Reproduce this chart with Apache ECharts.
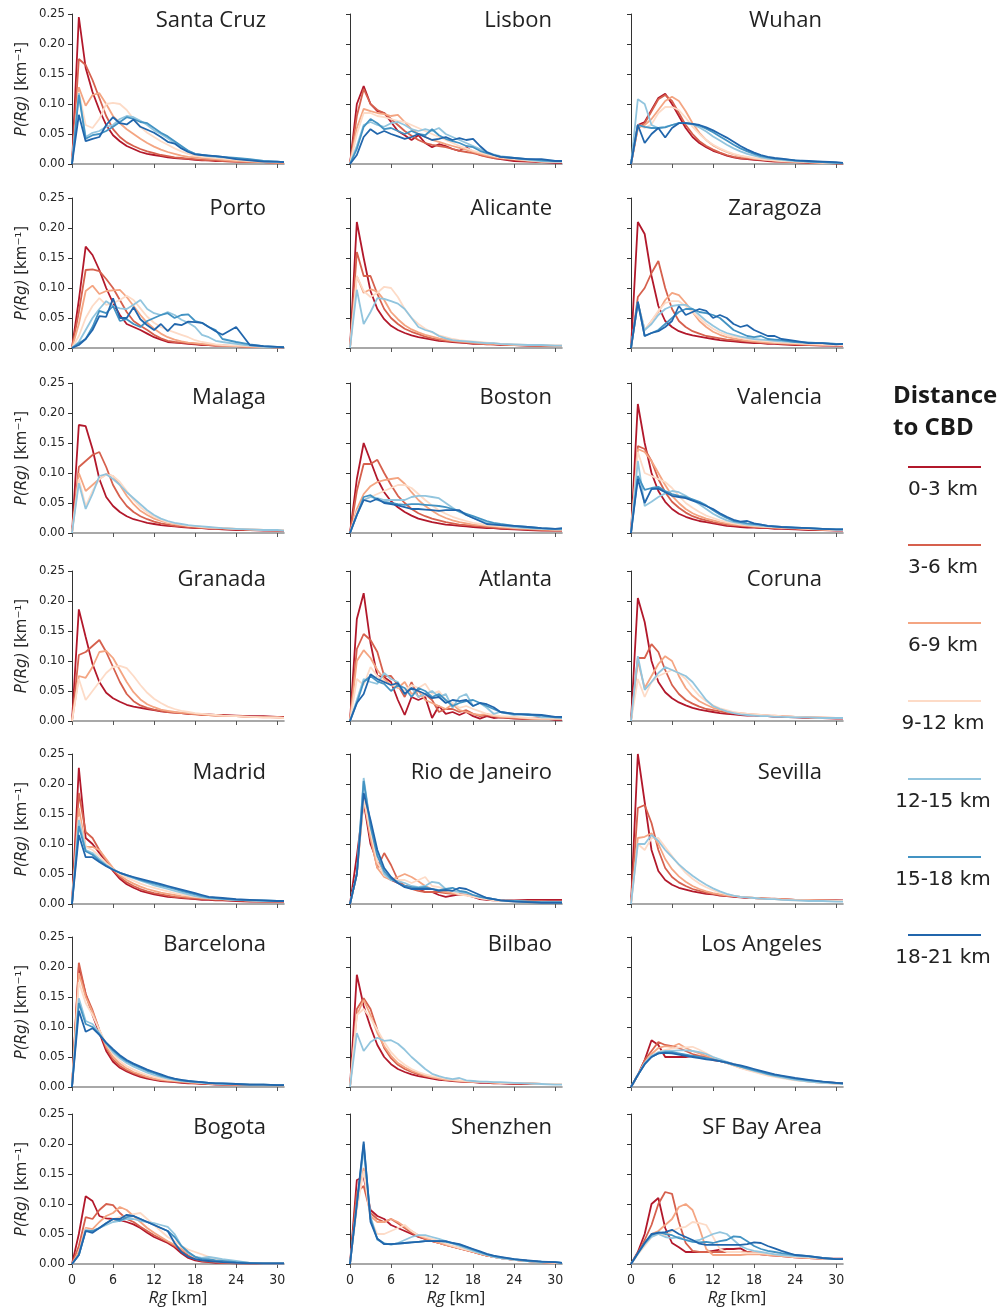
<!DOCTYPE html>
<html><head><meta charset="utf-8">
<script src="https://cdn.jsdelivr.net/npm/echarts@6/dist/echarts.min.js"></script>
<style>html,body{margin:0;padding:0;background:#fff}#c{width:1001px;height:1313px}</style>
</head><body><div id="c"></div>
<script>
// Rg bins (km)
const rgKm = [0,1,2,3,4,5,6,7,8,9,10,11,12,13,14,15,16,17,18,19,20,21,22,24,26,28,30,31];
const bands = ['0-3 km','3-6 km','6-9 km','9-12 km','12-15 km','15-18 km','18-21 km'];
const bandColors = ['#b2182b','#d6604d','#f4a582','#fddbc7','#92c5de','#4393c3','#2166ac'];
const xTicks = [0,6,12,18,24,30];
const yTicks = [0,0.05,0.10,0.15,0.20,0.25];
const cities = ['Santa Cruz','Lisbon','Wuhan','Porto','Alicante','Zaragoza','Malaga','Boston','Valencia','Granada','Atlanta','Coruna','Madrid','Rio de Janeiro','Sevilla','Barcelona','Bilbao','Los Angeles','Bogota','Shenzhen','SF Bay Area'];

const santaCruz = [
 [0,0.245,0.16,0.12,0.09,0.065,0.048,0.038,0.03,0.025,0.02,0.017,0.015,0.013,0.011,0.01,0.009,0.008,0.007,0.006,0.006,0.005,0.005,0.004,0.003,0.003,0.002,0.002],
 [0,0.175,0.165,0.14,0.11,0.08,0.058,0.045,0.036,0.03,0.025,0.021,0.018,0.015,0.013,0.011,0.01,0.009,0.008,0.007,0.006,0.006,0.005,0.004,0.003,0.003,0.002,0.002],
 [0,0.128,0.097,0.115,0.118,0.1,0.08,0.068,0.058,0.05,0.042,0.035,0.029,0.024,0.02,0.017,0.014,0.012,0.011,0.01,0.009,0.008,0.007,0.005,0.004,0.003,0.002,0.002],
 [0,0.12,0.065,0.06,0.075,0.1,0.102,0.1,0.09,0.075,0.062,0.052,0.045,0.038,0.032,0.026,0.021,0.017,0.014,0.012,0.011,0.01,0.009,0.007,0.005,0.004,0.003,0.003],
 [0,0.118,0.045,0.052,0.055,0.062,0.065,0.075,0.08,0.078,0.072,0.065,0.056,0.05,0.043,0.035,0.028,0.022,0.017,0.015,0.013,0.012,0.011,0.009,0.007,0.005,0.003,0.003],
 [0,0.115,0.042,0.048,0.05,0.055,0.062,0.07,0.078,0.075,0.07,0.068,0.06,0.052,0.046,0.038,0.03,0.022,0.017,0.015,0.014,0.013,0.012,0.01,0.008,0.005,0.004,0.003],
 [0,0.082,0.038,0.042,0.045,0.065,0.078,0.068,0.066,0.074,0.062,0.057,0.052,0.045,0.037,0.034,0.026,0.02,0.016,0.015,0.014,0.013,0.012,0.008,0.006,0.004,0.004,0.003]
];
const lisbon = [
 [0,0.1,0.13,0.1,0.088,0.085,0.07,0.055,0.048,0.04,0.048,0.035,0.028,0.033,0.03,0.025,0.022,0.028,0.02,0.015,0.013,0.01,0.008,0.005,0.004,0.003,0.002,0.002],
 [0,0.08,0.125,0.1,0.09,0.085,0.075,0.065,0.055,0.047,0.04,0.035,0.032,0.03,0.028,0.025,0.022,0.02,0.018,0.015,0.012,0.01,0.009,0.007,0.005,0.004,0.003,0.003],
 [0,0.06,0.092,0.088,0.085,0.083,0.08,0.082,0.07,0.058,0.05,0.045,0.04,0.037,0.033,0.03,0.027,0.024,0.02,0.017,0.014,0.012,0.01,0.008,0.006,0.004,0.003,0.003],
 [0,0.05,0.085,0.085,0.08,0.078,0.075,0.072,0.07,0.065,0.06,0.055,0.05,0.045,0.04,0.035,0.03,0.026,0.022,0.019,0.016,0.013,0.011,0.008,0.006,0.004,0.003,0.003],
 [0,0.03,0.065,0.07,0.065,0.062,0.068,0.07,0.065,0.058,0.055,0.058,0.055,0.06,0.05,0.045,0.04,0.035,0.03,0.025,0.02,0.016,0.013,0.01,0.007,0.005,0.004,0.004],
 [0,0.025,0.062,0.075,0.068,0.058,0.06,0.055,0.05,0.055,0.05,0.048,0.058,0.048,0.042,0.038,0.035,0.03,0.028,0.022,0.018,0.015,0.012,0.01,0.008,0.006,0.005,0.005],
 [0,0.015,0.045,0.058,0.05,0.055,0.05,0.046,0.042,0.045,0.05,0.045,0.04,0.042,0.045,0.04,0.043,0.04,0.042,0.03,0.02,0.015,0.012,0.01,0.008,0.008,0.005,0.005]
];
const wuhan = [
 [0,0.065,0.07,0.09,0.11,0.117,0.1,0.08,0.06,0.045,0.035,0.028,0.022,0.018,0.014,0.011,0.009,0.008,0.007,0.006,0.005,0.004,0.004,0.003,0.002,0.002,0.001,0.001],
 [0,0.06,0.068,0.088,0.108,0.115,0.105,0.085,0.065,0.05,0.038,0.03,0.024,0.019,0.015,0.012,0.01,0.009,0.008,0.007,0.006,0.005,0.004,0.003,0.002,0.002,0.001,0.001],
 [0,0.06,0.065,0.075,0.09,0.105,0.112,0.105,0.088,0.068,0.052,0.04,0.031,0.025,0.02,0.016,0.013,0.011,0.009,0.008,0.007,0.006,0.005,0.004,0.003,0.002,0.002,0.002],
 [0,0.065,0.06,0.066,0.085,0.095,0.095,0.09,0.077,0.062,0.05,0.04,0.032,0.026,0.021,0.017,0.014,0.012,0.01,0.008,0.007,0.006,0.005,0.004,0.003,0.002,0.002,0.002],
 [0,0.108,0.1,0.065,0.06,0.062,0.065,0.068,0.068,0.066,0.061,0.054,0.046,0.039,0.032,0.026,0.021,0.017,0.014,0.011,0.009,0.008,0.007,0.005,0.004,0.003,0.002,0.002],
 [0,0.065,0.062,0.06,0.06,0.061,0.065,0.068,0.068,0.067,0.064,0.059,0.053,0.046,0.039,0.032,0.026,0.021,0.017,0.013,0.011,0.009,0.008,0.006,0.004,0.003,0.002,0.002],
 [0,0.065,0.035,0.05,0.06,0.044,0.06,0.068,0.068,0.067,0.065,0.061,0.056,0.05,0.044,0.037,0.03,0.024,0.019,0.015,0.012,0.01,0.009,0.006,0.005,0.004,0.003,0.002]
];
const porto = [
 [0,0.08,0.169,0.155,0.13,0.1,0.075,0.055,0.04,0.035,0.03,0.024,0.018,0.014,0.01,0.009,0.008,0.007,0.006,0.005,0.005,0.004,0.004,0.003,0.002,0.002,0.001,0.001],
 [0,0.06,0.13,0.131,0.128,0.115,0.1,0.08,0.06,0.045,0.037,0.03,0.022,0.016,0.012,0.01,0.009,0.008,0.007,0.006,0.005,0.004,0.004,0.003,0.002,0.002,0.001,0.001],
 [0,0.04,0.095,0.104,0.09,0.095,0.096,0.097,0.085,0.07,0.055,0.042,0.032,0.024,0.018,0.014,0.011,0.009,0.008,0.007,0.006,0.005,0.004,0.003,0.002,0.002,0.001,0.001],
 [0,0.02,0.05,0.07,0.083,0.072,0.075,0.08,0.087,0.08,0.066,0.052,0.042,0.035,0.03,0.026,0.022,0.018,0.013,0.01,0.008,0.006,0.005,0.004,0.003,0.002,0.002,0.002],
 [0,0.01,0.03,0.05,0.065,0.078,0.07,0.066,0.065,0.072,0.08,0.065,0.058,0.055,0.06,0.055,0.047,0.042,0.035,0.022,0.018,0.012,0.01,0.007,0.004,0.002,0.001,0.001],
 [0,0.008,0.015,0.035,0.062,0.058,0.07,0.045,0.048,0.04,0.035,0.045,0.05,0.055,0.058,0.05,0.055,0.056,0.045,0.042,0.035,0.03,0.015,0.01,0.006,0.003,0.002,0.002],
 [0,0.005,0.015,0.03,0.053,0.052,0.083,0.05,0.05,0.068,0.048,0.038,0.03,0.04,0.028,0.04,0.038,0.044,0.043,0.042,0.035,0.028,0.022,0.035,0.005,0.003,0.002,0.001]
];
const alicante = [
 [0,0.21,0.15,0.095,0.065,0.048,0.037,0.03,0.025,0.021,0.018,0.016,0.014,0.012,0.011,0.01,0.009,0.008,0.007,0.007,0.006,0.006,0.005,0.005,0.004,0.003,0.003,0.003],
 [0,0.16,0.12,0.12,0.09,0.065,0.05,0.04,0.032,0.027,0.023,0.019,0.016,0.014,0.012,0.011,0.01,0.009,0.008,0.007,0.007,0.006,0.006,0.005,0.004,0.004,0.003,0.003],
 [0,0.12,0.092,0.098,0.094,0.08,0.06,0.048,0.038,0.031,0.026,0.022,0.019,0.016,0.014,0.012,0.011,0.01,0.009,0.008,0.007,0.007,0.006,0.005,0.005,0.004,0.004,0.004],
 [0,0.12,0.095,0.085,0.092,0.102,0.1,0.085,0.065,0.05,0.04,0.032,0.026,0.021,0.018,0.015,0.013,0.012,0.011,0.01,0.009,0.008,0.007,0.006,0.005,0.005,0.004,0.004],
 [0,0.097,0.04,0.06,0.083,0.082,0.078,0.074,0.065,0.05,0.035,0.03,0.027,0.02,0.016,0.013,0.012,0.011,0.01,0.009,0.008,0.008,0.007,0.006,0.005,0.005,0.004,0.004]
];
const zaragoza = [
 [0,0.21,0.19,0.12,0.07,0.045,0.035,0.028,0.024,0.021,0.019,0.017,0.015,0.013,0.012,0.011,0.01,0.009,0.008,0.008,0.007,0.007,0.006,0.005,0.005,0.004,0.004,0.004],
 [0,0.085,0.1,0.125,0.145,0.1,0.065,0.045,0.035,0.028,0.024,0.02,0.018,0.016,0.014,0.013,0.012,0.011,0.01,0.009,0.008,0.008,0.007,0.006,0.005,0.005,0.004,0.004],
 [0,0.075,0.03,0.045,0.06,0.08,0.092,0.088,0.075,0.06,0.045,0.035,0.027,0.022,0.018,0.016,0.014,0.012,0.011,0.01,0.009,0.008,0.008,0.007,0.006,0.005,0.005,0.005],
 [0,0.075,0.03,0.045,0.062,0.075,0.078,0.078,0.07,0.06,0.05,0.04,0.032,0.026,0.022,0.019,0.017,0.015,0.013,0.012,0.011,0.01,0.009,0.008,0.007,0.006,0.005,0.005],
 [0,0.075,0.03,0.04,0.055,0.065,0.07,0.072,0.072,0.065,0.055,0.045,0.037,0.03,0.025,0.022,0.019,0.017,0.015,0.014,0.013,0.012,0.011,0.01,0.009,0.008,0.007,0.007],
 [0,0.077,0.02,0.025,0.03,0.04,0.05,0.06,0.065,0.065,0.06,0.058,0.055,0.05,0.04,0.03,0.025,0.02,0.018,0.02,0.015,0.014,0.013,0.01,0.009,0.008,0.007,0.007],
 [0,0.077,0.02,0.025,0.028,0.035,0.045,0.07,0.055,0.06,0.065,0.062,0.05,0.055,0.05,0.04,0.035,0.038,0.03,0.025,0.02,0.02,0.015,0.012,0.008,0.008,0.006,0.007]
];
const malaga = [
 [0,0.18,0.178,0.14,0.09,0.06,0.045,0.035,0.028,0.023,0.02,0.017,0.015,0.013,0.012,0.011,0.01,0.009,0.008,0.008,0.007,0.007,0.006,0.005,0.005,0.004,0.004,0.004],
 [0,0.11,0.12,0.13,0.135,0.11,0.08,0.06,0.045,0.035,0.028,0.023,0.019,0.016,0.014,0.012,0.011,0.01,0.009,0.008,0.008,0.007,0.007,0.006,0.005,0.005,0.004,0.004],
 [0,0.1,0.07,0.08,0.09,0.098,0.095,0.08,0.062,0.048,0.037,0.03,0.024,0.02,0.017,0.015,0.013,0.012,0.011,0.01,0.009,0.008,0.008,0.007,0.006,0.005,0.005,0.005],
 [0,0.09,0.045,0.07,0.09,0.097,0.095,0.085,0.07,0.055,0.043,0.034,0.027,0.022,0.018,0.016,0.014,0.012,0.011,0.01,0.009,0.009,0.008,0.007,0.006,0.005,0.005,0.005],
 [0,0.083,0.04,0.065,0.095,0.098,0.09,0.08,0.068,0.058,0.048,0.038,0.03,0.024,0.02,0.017,0.015,0.013,0.012,0.011,0.01,0.009,0.008,0.007,0.006,0.005,0.005,0.004]
];
const boston = [
 [0,0.09,0.15,0.12,0.09,0.068,0.053,0.043,0.035,0.029,0.024,0.021,0.018,0.016,0.014,0.013,0.012,0.011,0.01,0.009,0.008,0.008,0.007,0.006,0.005,0.004,0.004,0.004],
 [0,0.07,0.115,0.115,0.122,0.1,0.08,0.062,0.05,0.04,0.033,0.028,0.024,0.021,0.018,0.016,0.014,0.013,0.012,0.011,0.01,0.009,0.008,0.007,0.006,0.005,0.004,0.004],
 [0,0.04,0.065,0.078,0.085,0.088,0.09,0.092,0.082,0.068,0.055,0.045,0.037,0.03,0.025,0.021,0.018,0.016,0.014,0.013,0.012,0.011,0.01,0.008,0.007,0.006,0.005,0.005],
 [0,0.035,0.055,0.06,0.065,0.07,0.075,0.08,0.08,0.075,0.065,0.055,0.046,0.038,0.032,0.027,0.023,0.02,0.017,0.015,0.013,0.012,0.011,0.009,0.008,0.007,0.006,0.006],
 [0,0.03,0.055,0.06,0.058,0.055,0.055,0.055,0.055,0.06,0.062,0.062,0.06,0.058,0.05,0.042,0.035,0.03,0.025,0.021,0.018,0.015,0.013,0.01,0.008,0.007,0.006,0.006],
 [0,0.03,0.06,0.063,0.055,0.052,0.05,0.048,0.047,0.048,0.048,0.047,0.046,0.045,0.043,0.04,0.036,0.032,0.028,0.024,0.02,0.017,0.015,0.012,0.01,0.008,0.007,0.007],
 [0,0.03,0.055,0.052,0.057,0.05,0.048,0.046,0.043,0.04,0.04,0.039,0.038,0.037,0.038,0.038,0.038,0.03,0.025,0.02,0.015,0.014,0.013,0.012,0.01,0.008,0.007,0.008]
];
const valencia = [
 [0,0.215,0.15,0.1,0.07,0.052,0.04,0.032,0.027,0.023,0.02,0.018,0.016,0.014,0.012,0.011,0.01,0.009,0.009,0.008,0.008,0.007,0.007,0.006,0.005,0.005,0.004,0.004],
 [0,0.145,0.14,0.12,0.09,0.068,0.052,0.042,0.034,0.028,0.024,0.021,0.018,0.016,0.014,0.013,0.012,0.011,0.01,0.009,0.009,0.008,0.008,0.007,0.006,0.005,0.005,0.005],
 [0,0.14,0.135,0.12,0.1,0.08,0.062,0.05,0.04,0.033,0.028,0.024,0.021,0.018,0.016,0.014,0.013,0.012,0.011,0.01,0.01,0.009,0.009,0.008,0.007,0.006,0.005,0.005],
 [0,0.135,0.1,0.095,0.09,0.085,0.075,0.062,0.05,0.042,0.035,0.029,0.025,0.021,0.018,0.016,0.014,0.013,0.012,0.011,0.01,0.01,0.009,0.008,0.007,0.006,0.005,0.005],
 [0,0.12,0.045,0.052,0.06,0.066,0.07,0.068,0.062,0.055,0.048,0.04,0.032,0.026,0.021,0.018,0.016,0.014,0.013,0.012,0.011,0.01,0.01,0.009,0.008,0.007,0.006,0.006],
 [0,0.095,0.072,0.075,0.077,0.07,0.065,0.062,0.06,0.056,0.052,0.046,0.038,0.031,0.025,0.02,0.018,0.016,0.015,0.014,0.012,0.011,0.01,0.009,0.008,0.007,0.006,0.006],
 [0,0.09,0.05,0.073,0.074,0.068,0.062,0.06,0.058,0.054,0.05,0.045,0.04,0.033,0.027,0.022,0.019,0.02,0.016,0.014,0.012,0.011,0.01,0.009,0.008,0.007,0.006,0.006]
];
const granada = [
 [0,0.186,0.14,0.095,0.065,0.047,0.038,0.032,0.027,0.024,0.022,0.02,0.018,0.016,0.015,0.014,0.013,0.012,0.012,0.011,0.011,0.01,0.01,0.009,0.008,0.008,0.007,0.007],
 [0,0.11,0.115,0.125,0.135,0.115,0.09,0.065,0.045,0.033,0.026,0.022,0.019,0.017,0.015,0.014,0.013,0.012,0.011,0.01,0.01,0.009,0.009,0.008,0.007,0.007,0.006,0.006],
 [0,0.075,0.072,0.09,0.115,0.117,0.105,0.085,0.065,0.048,0.036,0.028,0.023,0.019,0.017,0.015,0.014,0.013,0.012,0.011,0.01,0.009,0.009,0.008,0.007,0.006,0.006,0.005],
 [0,0.07,0.035,0.05,0.065,0.08,0.09,0.092,0.088,0.075,0.06,0.047,0.037,0.03,0.024,0.02,0.017,0.015,0.013,0.012,0.011,0.01,0.009,0.008,0.007,0.006,0.006,0.005]
];
const atlanta = [
 [0,0.17,0.213,0.13,0.075,0.073,0.065,0.035,0.01,0.04,0.035,0.04,0.005,0.025,0.012,0.015,0.01,0.015,0.008,0.004,0.008,0.005,0.006,0.004,0.003,0.005,0.002,0.002],
 [0,0.12,0.145,0.135,0.115,0.075,0.075,0.06,0.04,0.065,0.04,0.045,0.035,0.015,0.02,0.02,0.015,0.018,0.012,0.008,0.01,0.008,0.006,0.005,0.004,0.003,0.003,0.003],
 [0,0.1,0.118,0.105,0.085,0.07,0.06,0.055,0.065,0.045,0.05,0.035,0.03,0.025,0.02,0.028,0.018,0.015,0.012,0.01,0.012,0.008,0.007,0.006,0.004,0.003,0.003,0.003],
 [0,0.07,0.06,0.09,0.075,0.065,0.06,0.058,0.05,0.06,0.055,0.062,0.045,0.05,0.035,0.03,0.022,0.025,0.02,0.016,0.012,0.01,0.008,0.007,0.005,0.004,0.004,0.004],
 [0,0.035,0.07,0.065,0.062,0.08,0.07,0.065,0.045,0.055,0.04,0.045,0.05,0.04,0.045,0.022,0.04,0.045,0.025,0.03,0.022,0.012,0.015,0.01,0.012,0.006,0.006,0.005],
 [0,0.03,0.065,0.075,0.066,0.062,0.05,0.06,0.055,0.04,0.055,0.05,0.04,0.045,0.035,0.025,0.03,0.033,0.035,0.03,0.025,0.02,0.015,0.012,0.01,0.009,0.006,0.006],
 [0,0.03,0.045,0.078,0.07,0.065,0.06,0.063,0.045,0.055,0.05,0.045,0.038,0.04,0.03,0.035,0.033,0.035,0.025,0.03,0.028,0.023,0.015,0.012,0.011,0.01,0.007,0.007]
];
const coruna = [
 [0,0.205,0.165,0.1,0.065,0.048,0.038,0.031,0.026,0.022,0.019,0.017,0.015,0.013,0.012,0.011,0.01,0.009,0.009,0.008,0.008,0.007,0.007,0.006,0.005,0.005,0.004,0.004],
 [0,0.105,0.105,0.128,0.115,0.085,0.06,0.045,0.035,0.029,0.024,0.02,0.018,0.016,0.014,0.013,0.012,0.011,0.01,0.009,0.009,0.008,0.008,0.007,0.006,0.005,0.005,0.005],
 [0,0.1,0.055,0.075,0.095,0.108,0.1,0.075,0.055,0.042,0.033,0.027,0.022,0.019,0.016,0.014,0.013,0.012,0.011,0.01,0.009,0.009,0.008,0.007,0.006,0.006,0.005,0.005],
 [0,0.07,0.04,0.065,0.075,0.08,0.085,0.08,0.07,0.055,0.042,0.033,0.026,0.021,0.018,0.015,0.013,0.012,0.011,0.01,0.009,0.009,0.008,0.007,0.006,0.005,0.005,0.005],
 [0,0.108,0.052,0.065,0.08,0.09,0.085,0.08,0.075,0.065,0.05,0.035,0.025,0.02,0.016,0.013,0.011,0.01,0.009,0.008,0.008,0.007,0.007,0.006,0.006,0.005,0.005,0.005]
];
const madrid = [
 [0,0.227,0.11,0.1,0.085,0.07,0.055,0.042,0.033,0.027,0.022,0.019,0.016,0.014,0.012,0.011,0.01,0.009,0.008,0.007,0.007,0.006,0.006,0.005,0.004,0.004,0.004,0.004],
 [0,0.185,0.12,0.11,0.09,0.072,0.057,0.045,0.036,0.03,0.025,0.021,0.018,0.016,0.014,0.012,0.011,0.01,0.009,0.008,0.008,0.007,0.007,0.006,0.005,0.004,0.004,0.004],
 [0,0.16,0.095,0.095,0.09,0.075,0.06,0.048,0.04,0.034,0.029,0.025,0.022,0.019,0.017,0.015,0.013,0.012,0.011,0.01,0.009,0.008,0.008,0.007,0.006,0.005,0.005,0.005],
 [0,0.145,0.095,0.09,0.08,0.068,0.058,0.05,0.044,0.039,0.034,0.03,0.027,0.024,0.021,0.018,0.016,0.014,0.012,0.011,0.01,0.009,0.008,0.007,0.006,0.005,0.005,0.005],
 [0,0.14,0.09,0.085,0.075,0.065,0.058,0.052,0.047,0.043,0.039,0.035,0.031,0.028,0.025,0.022,0.019,0.016,0.013,0.011,0.01,0.009,0.008,0.007,0.006,0.005,0.005,0.005],
 [0,0.13,0.088,0.082,0.072,0.064,0.057,0.052,0.048,0.044,0.04,0.037,0.034,0.031,0.028,0.025,0.022,0.019,0.016,0.013,0.011,0.01,0.009,0.007,0.006,0.006,0.005,0.005],
 [0,0.115,0.078,0.078,0.07,0.063,0.057,0.052,0.048,0.045,0.042,0.039,0.036,0.033,0.03,0.027,0.024,0.021,0.018,0.015,0.012,0.011,0.01,0.008,0.007,0.006,0.005,0.005]
];
const rio = [
 [0,0.08,0.17,0.1,0.07,0.05,0.04,0.035,0.03,0.028,0.025,0.02,0.02,0.015,0.012,0.014,0.016,0.015,0.012,0.008,0.007,0.006,0.006,0.006,0.007,0.007,0.007,0.007],
 [0,0.05,0.18,0.11,0.06,0.085,0.065,0.04,0.03,0.025,0.022,0.02,0.02,0.02,0.018,0.017,0.016,0.015,0.013,0.01,0.008,0.007,0.006,0.005,0.005,0.004,0.004,0.004],
 [0,0.05,0.175,0.11,0.06,0.045,0.04,0.045,0.05,0.045,0.038,0.03,0.025,0.022,0.02,0.018,0.016,0.015,0.013,0.01,0.008,0.007,0.006,0.005,0.004,0.004,0.003,0.003],
 [0,0.05,0.175,0.12,0.07,0.048,0.042,0.04,0.04,0.035,0.04,0.045,0.03,0.028,0.025,0.02,0.016,0.014,0.012,0.01,0.008,0.006,0.005,0.004,0.003,0.003,0.003,0.003],
 [0,0.05,0.21,0.13,0.085,0.05,0.04,0.038,0.035,0.03,0.028,0.03,0.037,0.035,0.025,0.022,0.02,0.018,0.015,0.012,0.01,0.008,0.006,0.005,0.004,0.003,0.003,0.003],
 [0,0.05,0.205,0.13,0.08,0.055,0.042,0.035,0.03,0.028,0.027,0.028,0.025,0.023,0.025,0.027,0.022,0.02,0.015,0.012,0.01,0.008,0.006,0.005,0.004,0.003,0.003,0.003],
 [0,0.05,0.185,0.14,0.09,0.06,0.045,0.035,0.028,0.025,0.025,0.025,0.025,0.022,0.023,0.022,0.027,0.025,0.02,0.015,0.01,0.008,0.006,0.004,0.003,0.002,0.002,0.002]
];
const sevilla = [
 [0,0.25,0.17,0.09,0.055,0.04,0.032,0.027,0.024,0.021,0.019,0.017,0.016,0.014,0.013,0.012,0.011,0.01,0.01,0.009,0.009,0.008,0.008,0.007,0.007,0.006,0.006,0.006],
 [0,0.16,0.165,0.135,0.09,0.06,0.045,0.036,0.03,0.025,0.022,0.019,0.017,0.015,0.014,0.013,0.012,0.011,0.01,0.01,0.009,0.009,0.008,0.007,0.007,0.006,0.006,0.005],
 [0,0.11,0.112,0.118,0.1,0.075,0.058,0.046,0.037,0.03,0.025,0.021,0.018,0.016,0.014,0.013,0.012,0.011,0.01,0.009,0.009,0.008,0.008,0.007,0.006,0.006,0.005,0.005],
 [0,0.1,0.09,0.11,0.11,0.095,0.08,0.065,0.052,0.042,0.034,0.028,0.023,0.019,0.016,0.014,0.012,0.011,0.01,0.009,0.009,0.008,0.007,0.006,0.006,0.005,0.005,0.005],
 [0,0.1,0.1,0.115,0.105,0.09,0.078,0.066,0.056,0.047,0.039,0.032,0.026,0.021,0.017,0.014,0.012,0.011,0.01,0.009,0.008,0.008,0.007,0.006,0.005,0.005,0.004,0.004]
];
const barcelona = [
 [0,0.2,0.155,0.12,0.09,0.06,0.042,0.032,0.026,0.021,0.017,0.014,0.012,0.01,0.009,0.008,0.007,0.006,0.006,0.005,0.005,0.004,0.004,0.004,0.003,0.003,0.003,0.003],
 [0,0.207,0.155,0.128,0.095,0.065,0.046,0.035,0.028,0.023,0.019,0.016,0.013,0.011,0.01,0.009,0.008,0.007,0.006,0.006,0.005,0.005,0.004,0.004,0.003,0.003,0.003,0.003],
 [0,0.19,0.15,0.125,0.095,0.068,0.05,0.039,0.031,0.025,0.021,0.017,0.014,0.012,0.011,0.01,0.009,0.008,0.007,0.006,0.006,0.005,0.005,0.004,0.004,0.003,0.003,0.003],
 [0,0.175,0.14,0.12,0.095,0.072,0.055,0.043,0.035,0.029,0.024,0.02,0.017,0.014,0.012,0.011,0.01,0.009,0.008,0.007,0.006,0.006,0.005,0.005,0.004,0.004,0.003,0.003],
 [0,0.148,0.11,0.105,0.09,0.072,0.058,0.048,0.04,0.034,0.029,0.024,0.02,0.017,0.014,0.012,0.01,0.009,0.008,0.007,0.006,0.006,0.005,0.005,0.004,0.004,0.003,0.003],
 [0,0.14,0.105,0.1,0.088,0.073,0.061,0.051,0.043,0.037,0.032,0.027,0.023,0.019,0.016,0.013,0.011,0.01,0.009,0.008,0.007,0.006,0.006,0.005,0.004,0.004,0.003,0.003],
 [0,0.127,0.092,0.098,0.087,0.074,0.063,0.053,0.045,0.039,0.034,0.029,0.025,0.021,0.017,0.014,0.012,0.01,0.009,0.008,0.007,0.006,0.006,0.005,0.004,0.004,0.003,0.003]
];
const bilbao = [
 [0,0.187,0.135,0.1,0.07,0.05,0.038,0.03,0.025,0.021,0.018,0.016,0.014,0.012,0.011,0.01,0.009,0.008,0.008,0.007,0.007,0.006,0.006,0.005,0.005,0.005,0.005,0.005],
 [0,0.13,0.148,0.13,0.095,0.065,0.048,0.037,0.03,0.025,0.021,0.018,0.016,0.014,0.012,0.011,0.01,0.009,0.009,0.008,0.008,0.007,0.007,0.006,0.006,0.005,0.005,0.005],
 [0,0.12,0.145,0.12,0.09,0.068,0.052,0.04,0.033,0.027,0.023,0.019,0.016,0.014,0.012,0.011,0.01,0.009,0.009,0.008,0.008,0.007,0.007,0.006,0.006,0.005,0.005,0.005],
 [0,0.12,0.13,0.115,0.095,0.075,0.058,0.046,0.037,0.03,0.025,0.021,0.018,0.016,0.014,0.012,0.011,0.01,0.009,0.009,0.008,0.008,0.007,0.007,0.006,0.005,0.005,0.005],
 [0,0.09,0.06,0.075,0.082,0.077,0.078,0.072,0.062,0.05,0.04,0.03,0.022,0.018,0.015,0.013,0.015,0.011,0.01,0.009,0.009,0.008,0.008,0.007,0.006,0.005,0.004,0.004]
];
const losAngeles = [
 [0,0.02,0.045,0.078,0.07,0.05,0.05,0.05,0.05,0.052,0.05,0.048,0.045,0.043,0.04,0.037,0.034,0.031,0.028,0.025,0.022,0.02,0.017,0.013,0.01,0.008,0.007,0.006],
 [0,0.02,0.045,0.06,0.075,0.07,0.068,0.065,0.06,0.055,0.052,0.05,0.047,0.044,0.041,0.038,0.034,0.031,0.028,0.025,0.022,0.019,0.017,0.013,0.01,0.008,0.006,0.006],
 [0,0.02,0.04,0.055,0.065,0.068,0.067,0.072,0.065,0.06,0.056,0.052,0.048,0.044,0.04,0.036,0.032,0.029,0.026,0.023,0.02,0.018,0.016,0.012,0.009,0.007,0.006,0.005],
 [0,0.02,0.04,0.052,0.058,0.062,0.064,0.066,0.066,0.067,0.062,0.056,0.05,0.045,0.04,0.036,0.032,0.028,0.025,0.022,0.019,0.017,0.015,0.011,0.009,0.007,0.005,0.005],
 [0,0.02,0.04,0.052,0.058,0.06,0.06,0.061,0.061,0.06,0.058,0.055,0.05,0.046,0.042,0.038,0.034,0.03,0.027,0.024,0.021,0.018,0.016,0.012,0.009,0.007,0.006,0.005],
 [0,0.02,0.038,0.05,0.056,0.058,0.058,0.056,0.054,0.052,0.05,0.048,0.046,0.043,0.04,0.037,0.034,0.031,0.028,0.025,0.022,0.02,0.018,0.014,0.011,0.009,0.007,0.006],
 [0,0.02,0.038,0.05,0.056,0.057,0.056,0.054,0.052,0.05,0.048,0.046,0.045,0.043,0.041,0.038,0.036,0.033,0.03,0.027,0.024,0.021,0.019,0.015,0.012,0.009,0.007,0.006]
];
const bogota = [
 [0,0.05,0.113,0.105,0.08,0.076,0.075,0.073,0.07,0.066,0.06,0.052,0.045,0.04,0.035,0.028,0.018,0.01,0.006,0.004,0.003,0.002,0.002,0.001,0.001,0.001,0.001,0.001],
 [0,0.03,0.078,0.075,0.09,0.1,0.098,0.085,0.075,0.07,0.062,0.055,0.048,0.042,0.037,0.03,0.022,0.014,0.008,0.005,0.004,0.003,0.002,0.002,0.001,0.001,0.001,0.001],
 [0,0.02,0.06,0.058,0.07,0.08,0.085,0.095,0.09,0.08,0.07,0.06,0.052,0.045,0.038,0.032,0.025,0.018,0.012,0.008,0.006,0.004,0.003,0.002,0.001,0.001,0.001,0.001],
 [0,0.015,0.058,0.055,0.06,0.068,0.075,0.078,0.08,0.083,0.085,0.075,0.065,0.055,0.045,0.038,0.03,0.024,0.02,0.016,0.012,0.009,0.007,0.004,0.002,0.001,0.001,0.001],
 [0,0.015,0.057,0.055,0.06,0.065,0.07,0.072,0.075,0.075,0.072,0.07,0.068,0.065,0.062,0.05,0.03,0.018,0.012,0.01,0.012,0.01,0.008,0.005,0.002,0.001,0.001,0.001],
 [0,0.015,0.055,0.055,0.06,0.068,0.075,0.072,0.078,0.08,0.075,0.07,0.065,0.06,0.055,0.045,0.03,0.02,0.012,0.008,0.008,0.006,0.005,0.003,0.002,0.001,0.001,0.001],
 [0,0.015,0.055,0.052,0.06,0.068,0.075,0.075,0.082,0.08,0.075,0.07,0.065,0.06,0.055,0.035,0.02,0.012,0.008,0.006,0.005,0.004,0.003,0.002,0.001,0.001,0.001,0.001]
];
const shenzhen = [
 [0,0.14,0.145,0.09,0.08,0.075,0.065,0.06,0.055,0.05,0.045,0.042,0.038,0.035,0.032,0.029,0.026,0.023,0.02,0.017,0.014,0.012,0.01,0.007,0.005,0.003,0.002,0.002],
 [0,0.12,0.13,0.085,0.075,0.07,0.075,0.068,0.06,0.052,0.046,0.042,0.038,0.035,0.032,0.029,0.026,0.023,0.02,0.017,0.014,0.012,0.01,0.007,0.005,0.003,0.002,0.002],
 [0,0.1,0.16,0.08,0.07,0.07,0.075,0.07,0.062,0.055,0.048,0.043,0.039,0.035,0.032,0.029,0.026,0.023,0.02,0.017,0.014,0.012,0.01,0.007,0.005,0.003,0.002,0.002],
 [0,0.09,0.155,0.075,0.05,0.05,0.055,0.06,0.065,0.055,0.048,0.045,0.042,0.038,0.034,0.03,0.027,0.024,0.021,0.018,0.015,0.012,0.01,0.007,0.005,0.003,0.002,0.002],
 [0,0.1,0.19,0.08,0.04,0.035,0.032,0.035,0.04,0.045,0.048,0.048,0.045,0.042,0.038,0.034,0.03,0.026,0.022,0.018,0.015,0.012,0.01,0.007,0.005,0.003,0.003,0.002],
 [0,0.1,0.2,0.075,0.042,0.034,0.033,0.034,0.035,0.036,0.037,0.038,0.038,0.038,0.037,0.035,0.032,0.028,0.024,0.02,0.016,0.013,0.011,0.008,0.005,0.004,0.003,0.002],
 [0,0.1,0.204,0.07,0.042,0.033,0.033,0.034,0.035,0.036,0.037,0.038,0.038,0.038,0.038,0.035,0.033,0.029,0.025,0.021,0.017,0.014,0.012,0.008,0.006,0.004,0.003,0.002]
];
const sfBayArea = [
 [0,0.02,0.05,0.1,0.11,0.06,0.035,0.028,0.02,0.02,0.02,0.02,0.022,0.024,0.025,0.025,0.026,0.02,0.018,0.016,0.015,0.014,0.013,0.011,0.01,0.009,0.009,0.009],
 [0,0.018,0.04,0.065,0.1,0.12,0.117,0.07,0.035,0.022,0.02,0.02,0.02,0.02,0.02,0.02,0.02,0.02,0.019,0.018,0.017,0.015,0.014,0.012,0.01,0.009,0.008,0.008],
 [0,0.017,0.035,0.05,0.055,0.065,0.075,0.095,0.1,0.09,0.06,0.025,0.015,0.015,0.015,0.015,0.015,0.016,0.016,0.016,0.015,0.014,0.013,0.011,0.01,0.009,0.008,0.008],
 [0,0.016,0.03,0.045,0.05,0.048,0.055,0.06,0.062,0.07,0.068,0.065,0.045,0.025,0.02,0.02,0.02,0.018,0.018,0.018,0.017,0.016,0.015,0.012,0.011,0.009,0.008,0.008],
 [0,0.017,0.033,0.045,0.05,0.045,0.043,0.045,0.04,0.038,0.04,0.045,0.05,0.053,0.05,0.04,0.03,0.025,0.022,0.02,0.018,0.016,0.015,0.013,0.012,0.01,0.008,0.008],
 [0,0.018,0.035,0.048,0.053,0.05,0.048,0.043,0.04,0.037,0.036,0.037,0.035,0.038,0.04,0.046,0.045,0.038,0.03,0.025,0.022,0.02,0.018,0.015,0.013,0.01,0.008,0.008],
 [0,0.018,0.035,0.05,0.052,0.053,0.057,0.05,0.045,0.04,0.034,0.032,0.032,0.032,0.032,0.032,0.032,0.033,0.036,0.035,0.03,0.026,0.022,0.015,0.013,0.01,0.008,0.008]
];
const cityData = [santaCruz,lisbon,wuhan,porto,alicante,zaragoza,malaga,boston,valencia,granada,atlanta,coruna,madrid,rio,sevilla,barcelona,bilbao,losAngeles,bogota,shenzhen,sfBayArea];

// ---- layout ----
const colLeft = [72, 350, 631];
const rowTop = [14, 198, 383, 571, 754, 937, 1114];
const panelW = 212, panelH = 150;
const titleRight = [266, 552, 822];
const titleY = [21, 209, 398, 580, 773, 945, 1128];
const tickFont = "'DejaVu Sans Condensed','DejaVu Sans',sans-serif";

const grids = [], xAxes = [], yAxes = [], series = [], graphics = [];
cities.forEach((name, i) => {
  const r = Math.floor(i / 3), c = i % 3;
  const bottom = r === 6, leftCol = c === 0;
  grids.push({left: colLeft[c], top: rowTop[r], width: panelW, height: panelH});
  xAxes.push({
    gridIndex: i, type: 'value', min: 0, max: 31, interval: 6,
    splitLine: {show: false},
    axisLine: {show: true, onZero: false, lineStyle: {color: '#8c8c8c', width: 1.6}},
    axisTick: {show: true, customValues: xTicks, length: 4, lineStyle: {color: '#555', width: 1}},
    axisLabel: {show: bottom, customValues: xTicks, margin: 9, fontSize: 14, color: '#262626', fontFamily: tickFont},
    name: bottom ? '{i|Rg} [km]' : '', nameLocation: 'middle', nameGap: 26,
    nameTextStyle: {fontSize: 17, color: '#262626', fontFamily: "'Open Sans',sans-serif",
      rich: {i: {fontStyle: 'italic', fontSize: 17, color: '#262626', fontFamily: "'Open Sans',sans-serif"}}}
  });
  yAxes.push({
    gridIndex: i, type: 'value', min: 0, max: 0.25, interval: 0.05,
    splitLine: {show: false},
    axisLine: {show: true, lineStyle: {color: '#333', width: 1}},
    axisTick: {show: true, length: 4, lineStyle: {color: '#333', width: 1}},
    axisLabel: {show: leftCol, margin: 7, fontSize: 13, color: '#262626', fontFamily: tickFont,
      formatter: v => v.toFixed(2)},
    name: leftCol ? '{i|P(Rg)} [km⁻¹]' : '', nameLocation: 'middle', nameRotate: 90, nameGap: 42,
    nameTextStyle: {fontSize: 15, color: '#262626', fontFamily: "'DejaVu Sans',sans-serif",
      rich: {i: {fontStyle: 'italic', fontSize: 15, color: '#262626', fontFamily: "'DejaVu Sans',sans-serif"}}}
  });
  cityData[i].forEach((vals, k) => {
    series.push({
      type: 'line', name: bands[k], xAxisIndex: i, yAxisIndex: i,
      data: rgKm.map((x, j) => [x, vals[j]]),
      showSymbol: false, symbol: 'none', silent: true,
      lineStyle: {width: 1.8, color: bandColors[k]}, itemStyle: {color: bandColors[k]}
    });
  });
  graphics.push({
    type: 'text', x: titleRight[c], y: titleY[r], silent: true,
    style: {text: name, fill: '#222', fontSize: 22, fontFamily: "'Open Sans',sans-serif",
      align: 'right', verticalAlign: 'middle', textAlign: 'right', textVerticalAlign: 'middle'}
  });
});

// legend (drawn as graphics)
graphics.push({type: 'text', x: 893, y: 396, silent: true,
  style: {text: 'Distance', fill: '#1a1a1a', fontSize: 24, fontWeight: 'bold', fontFamily: "'Open Sans',sans-serif",
    align: 'left', verticalAlign: 'middle', textAlign: 'left', textVerticalAlign: 'middle'}});
graphics.push({type: 'text', x: 893, y: 428, silent: true,
  style: {text: 'to CBD', fill: '#1a1a1a', fontSize: 24, fontWeight: 'bold', fontFamily: "'Open Sans',sans-serif",
    align: 'left', verticalAlign: 'middle', textAlign: 'left', textVerticalAlign: 'middle'}});
bands.forEach((b, k) => {
  const ly = 467 + k * 78;
  graphics.push({type: 'line', silent: true, shape: {x1: 908, y1: ly, x2: 981, y2: ly},
    style: {stroke: bandColors[k], lineWidth: 2}});
  graphics.push({type: 'text', x: 943, y: ly + 23, silent: true,
    style: {text: b, fill: '#222', fontSize: 20, fontFamily: "'DejaVu Sans',sans-serif",
      align: 'center', verticalAlign: 'middle', textAlign: 'center', textVerticalAlign: 'middle'}});
});

const chart = echarts.init(document.getElementById('c'), null, {renderer: 'canvas', width: 1001, height: 1313});
chart.setOption({
  animation: false, backgroundColor: '#ffffff',
  grid: grids, xAxis: xAxes, yAxis: yAxes, series: series, graphic: graphics
});
</script>
</body></html>
